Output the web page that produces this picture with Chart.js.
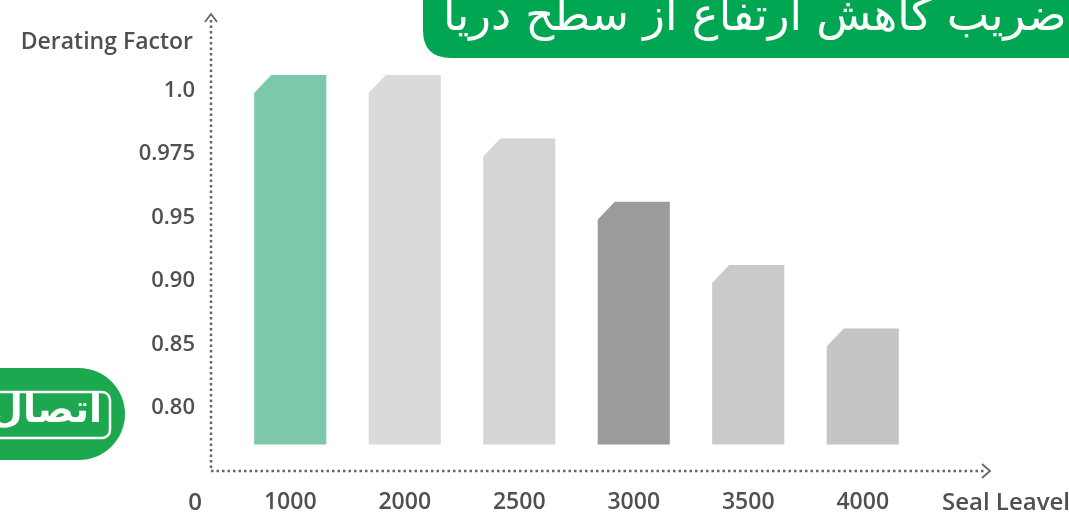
<!DOCTYPE html>
<html>
<head>
<meta charset="utf-8">
<script src="https://cdn.jsdelivr.net/npm/chart.js@4.4.0/dist/chart.umd.min.js"></script>
<style>
  html, body { margin: 0; padding: 0; background: #fff; }
  #wrap { width: 1069px; height: 517px; position: relative; }
</style>
</head>
<body>
<div id="wrap"><canvas id="barChart"></canvas></div>
<script>
// altitude (m) vs derating factor
const categories = ['1000', '2000', '2500', '3000', '3500', '4000'];
const factors = [1.0, 1.0, 0.975, 0.95, 0.90, 0.85];
const yTickLabels = ['0.80', '0.85', '0.90', '0.95', '0.975', '1.0'];
const barColors = ['#7cc8ab', '#d9dadb', '#d4d5d6', '#9a9b9b', '#c9cacb', '#c3c5c6'];

const titleText = 'جدول ضریب کاهش ارتفاع از سطح دریا';
const yTitle = 'Derating Factor';
const xTitle = 'Seal Leavel';
const originLabel = '0';

// the axis is spaced by rank, not by value
const ranks = factors.map(f => yTickLabels.findIndex(t => parseFloat(t) === f));
const barTops = ranks.map(r => r + 0.25);

const textColor = '#505050';
const fontFamily = '"Open Sans", "Noto Sans", sans-serif';

const decorations = {
  id: 'decorations',
  beforeDraw(chart) {
    const ctx = chart.ctx;
    const W = chart.width;
    ctx.save();
    // green title banner
    const bx = W - 646, by = 58, r = 28;
    ctx.fillStyle = '#00a651';
    ctx.beginPath();
    ctx.moveTo(bx, -5);
    ctx.lineTo(W + 5, -5);
    ctx.lineTo(W + 5, by);
    ctx.lineTo(bx + r, by);
    ctx.quadraticCurveTo(bx, by, bx, by - r);
    ctx.closePath();
    ctx.fill();
    ctx.fillStyle = '#fff';
    ctx.font = '45px "DejaVu Sans", sans-serif';
    ctx.direction = 'rtl';
    ctx.textAlign = 'left';
    ctx.textBaseline = 'alphabetic';
    ctx.fillText(titleText, bx + 20, 30);
    ctx.direction = 'ltr';

    // logo
    ctx.fillStyle = '#1da84f';
    ctx.beginPath();
    ctx.moveTo(-5, 368);
    ctx.lineTo(79, 368);
    ctx.arc(79, 414, 46, -Math.PI / 2, Math.PI / 2);
    ctx.lineTo(-5, 460);
    ctx.closePath();
    ctx.fill();
    ctx.strokeStyle = '#fff';
    ctx.lineWidth = 2.5;
    ctx.beginPath();
    ctx.roundRect(-10, 392, 120, 46, 8);
    ctx.stroke();
    ctx.fillStyle = '#fff';
    ctx.font = 'bold 38px "DejaVu Sans", sans-serif';
    ctx.direction = 'rtl';
    ctx.textAlign = 'right';
    ctx.textBaseline = 'middle';
    ctx.fillText('اتصال', 102, 412);
    ctx.restore();
  },
  afterDatasetsDraw(chart) {
    const ctx = chart.ctx;
    const area = chart.chartArea;
    ctx.save();
    // chamfer the top-left corner of each bar
    ctx.fillStyle = '#fff';
    chart.getDatasetMeta(0).data.forEach(bar => {
      const left = bar.x - bar.width / 2;
      const top = bar.y;
      ctx.beginPath();
      ctx.moveTo(left - 1, top - 1);
      ctx.lineTo(left + 18, top - 1);
      ctx.lineTo(left - 1, top + 19);
      ctx.closePath();
      ctx.fill();
    });

    // dotted axes with arrow heads
    const ox = area.left - 22;
    const oy = area.bottom;
    const xEnd = area.right + 70;
    ctx.strokeStyle = '#666';
    ctx.lineWidth = 2.5;
    ctx.setLineDash([2.5, 3]);
    ctx.beginPath();
    ctx.moveTo(ox, area.top + 2);
    ctx.lineTo(ox, oy);
    ctx.lineTo(xEnd - 4, oy);
    ctx.stroke();
    ctx.setLineDash([]);
    ctx.lineWidth = 1.8;
    ctx.beginPath();
    ctx.moveTo(ox - 6, area.top + 4);
    ctx.lineTo(ox, area.top - 4);
    ctx.lineTo(ox + 6, area.top + 4);
    ctx.moveTo(xEnd - 8, oy - 7);
    ctx.lineTo(xEnd, oy);
    ctx.lineTo(xEnd - 8, oy + 7);
    ctx.stroke();

    // axis texts
    ctx.fillStyle = textColor;
    ctx.font = '600 23px ' + fontFamily;
    ctx.textBaseline = 'middle';
    ctx.textAlign = 'right';
    ctx.fillText(yTitle, area.left - 40, 42);
    ctx.font = '600 24px ' + fontFamily;
    ctx.textAlign = 'center';
    ctx.fillText(originLabel, area.left - 38, 503);
    ctx.textAlign = 'left';
    ctx.fillText(xTitle, area.right + 22, 503);
    ctx.restore();
  }
};

new Chart(document.getElementById('barChart'), {
  type: 'bar',
  data: {
    labels: categories,
    datasets: [{
      data: barTops,
      base: -0.58,
      backgroundColor: barColors,
      borderWidth: 0,
      categoryPercentage: 1,
      barPercentage: 0.63
    }]
  },
  options: {
    responsive: true,
    maintainAspectRatio: false,
    animation: false,
    layout: { padding: { top: 18, right: 149, left: 0, bottom: 0 } },
    plugins: {
      legend: { display: false },
      tooltip: { enabled: false }
    },
    scales: {
      x: {
        grid: { display: false, drawTicks: false },
        border: { display: false },
        ticks: {
          color: textColor,
          font: { family: fontFamily, size: 23, weight: 600 },
          padding: 18
        },
        afterFit(scale) { scale.height = 46; }
      },
      y: {
        min: -1,
        max: 6.15,
        // tickLength gives the gap to the labels without padding the top/bottom
        grid: { display: false, drawTicks: true, tickLength: 38 },
        border: { display: false },
        afterBuildTicks(scale) {
          scale.ticks = yTickLabels.map((t, i) => ({ value: i }));
        },
        ticks: {
          color: textColor,
          font: { family: fontFamily, size: 22, weight: 600 },
          padding: 0,
          callback: v => yTickLabels[v]
        },
        afterFit(scale) { scale.width = 233; }
      }
    }
  },
  plugins: [decorations]
});
</script>
</body>
</html>
